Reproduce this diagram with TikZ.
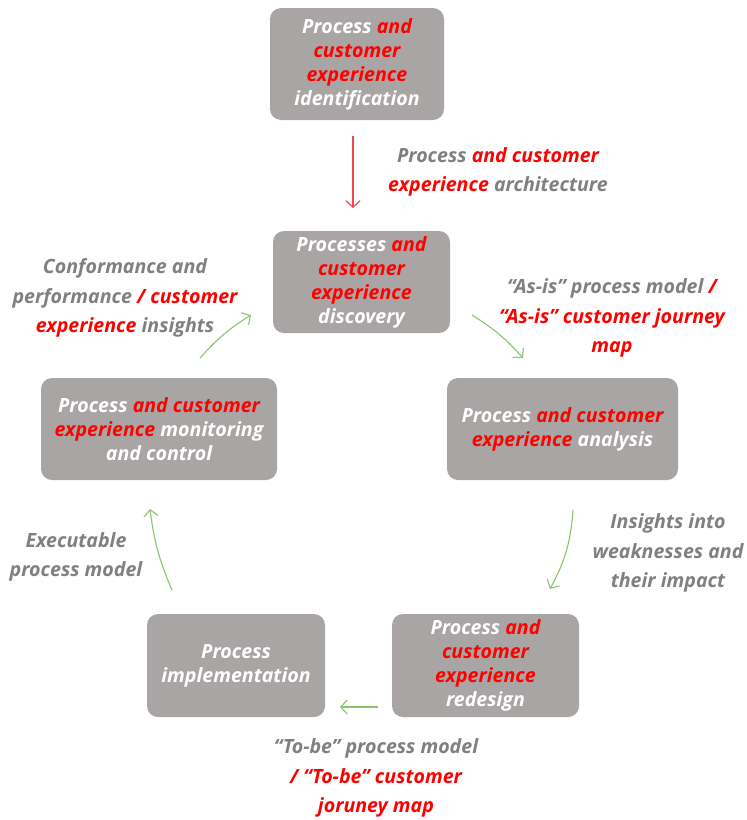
\documentclass[tikz,border=0pt]{standalone}
\usepackage{fontspec}
\setmainfont{Open Sans}
\usetikzlibrary{arrows.meta}
\definecolor{boxgrey}{RGB}{169,165,164}
\definecolor{labgrey}{RGB}{128,128,128}
\definecolor{hired}{RGB}{255,0,0}
\definecolor{arrred}{RGB}{238,72,82}
\definecolor{arrgreen}{RGB}{140,196,110}
\newcommand{\rd}[1]{\textcolor{hired}{#1}}
\tikzset{
  stagebox/.style={draw=none, fill=boxgrey, rounded corners=11pt, text=white, align=center,
    font=\fontsize{19.6}{24}\selectfont\bfseries\itshape, inner sep=0pt},
  lab/.style={text=labgrey, align=center, font=\fontsize{19.6}{29.5}\selectfont\bfseries\itshape, inner sep=0pt},
  garrow/.style={draw=arrgreen, line width=1.1pt, -{Straight Barb[length=6.5pt,width=14pt]}},
  rarrow/.style={draw=arrred, line width=1.2pt, -{Straight Barb[length=6.5pt,width=14pt]}}
}
\begin{document}
\begin{tikzpicture}[x=1pt,y=-1pt]
\useasboundingbox (0,0) rectangle (747,820);
\fill[white] (0,0) rectangle (747,820);
% boxes
\node[stagebox, minimum width=174pt, minimum height=112pt] (ident) at (357,64)
  {Process \rd{and}\\ \rd{customer}\\ \rd{experience}\\ identification};
\node[stagebox, minimum width=177pt, minimum height=102pt] (disc) at (361.5,282)
  {Processes \rd{and}\\ \rd{customer}\\ \rd{experience}\\ discovery};
\node[stagebox, minimum width=236pt, minimum height=102pt] (mon) at (159,429)
  {Process \rd{and customer}\\ \rd{experience} monitoring\\ and control};
\node[stagebox, minimum width=231pt, minimum height=102pt] (ana) at (562.5,429)
  {Process \rd{and customer}\\ \rd{experience} analysis};
\node[stagebox, minimum width=178pt, minimum height=103pt] (impl) at (236,665.5)
  {Process\\ implementation};
\node[stagebox, minimum width=187pt, minimum height=103pt] (redes) at (485.5,665.5)
  {Process \rd{and}\\ \rd{customer}\\ \rd{experience}\\ redesign};
% labels
\node[lab] (larch) at (498,172) {Process \rd{and customer}\\ \rd{experience} architecture};
\node[lab] (lconf) at (125,298) {Conformance and\\ performance \rd{/ customer}\\ \rd{experience} insights};
\node[lab] (lasis) at (612,318) {“As-is” process model \rd{/}\\ \rd{“As-is” customer journey}\\ \rd{map}};
\node[lab] (lins) at (668,553) {Insights into\\ weaknesses and\\ their impact};
\node[lab] (lexe) at (76,557) {Executable\\ process model};
\node[lab] (ltobe) at (376,778) {“To-be” process model\\ \rd{/ “To-be” customer}\\ \rd{joruney map}};
% arrow end points
\coordinate (a1s) at (353,136); \coordinate (a1e) at (353,208);
\coordinate (a2s) at (472,315); \coordinate (a2e) at (523,358);
\coordinate (a3s) at (573,510); \coordinate (a3e) at (550,589);
\coordinate (a4s) at (378,707); \coordinate (a4e) at (340,707);
\coordinate (a5s) at (172,590); \coordinate (a5e) at (150,509);
\coordinate (a6s) at (200,358); \coordinate (a6e) at (251,315);
\draw[rarrow] (a1s) -- (a1e);
\draw[garrow] (a2s) to[bend left=8] (a2e);
\draw[garrow] (a3s) to[bend left=12] (a3e);
\draw[garrow] (a4s) -- (a4e);
\draw[garrow] (a5s) to[bend left=8] (a5e);
\draw[garrow] (a6s) to[bend left=8] (a6e);
\end{tikzpicture}
\end{document}
